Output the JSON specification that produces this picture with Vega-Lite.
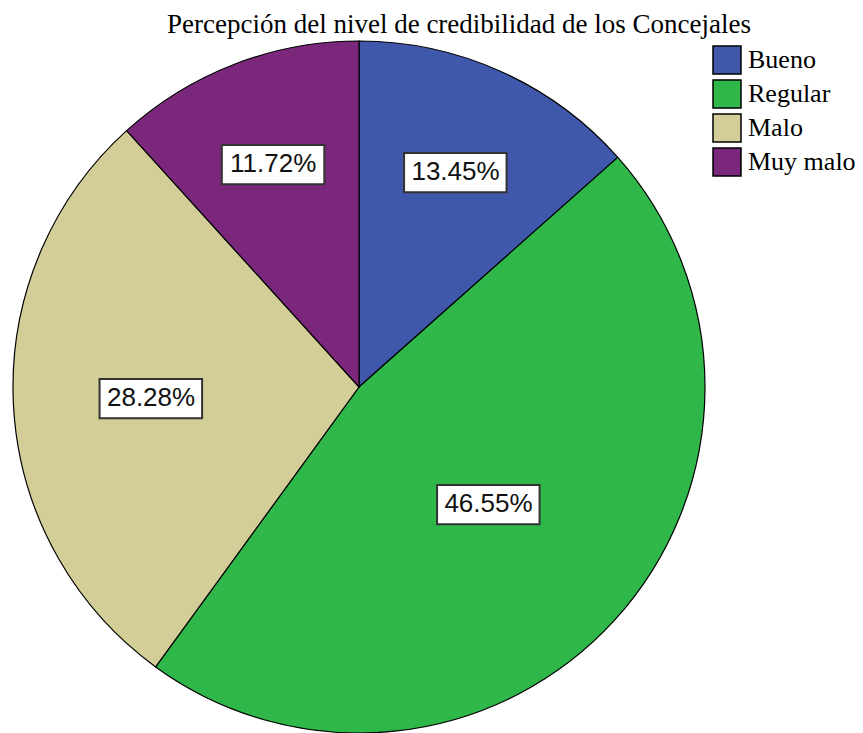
{
  "$schema": "https://vega.github.io/schema/vega-lite/v6.json",
  "width": 692,
  "height": 692,
  "autosize": {"type": "none"},
  "padding": {"left": 13, "top": 41, "right": 158, "bottom": 0},
  "background": "white",
  "title": {
    "text": "Percepción del nivel de credibilidad de los Concejales",
    "font": "Liberation Serif",
    "fontSize": 27,
    "fontWeight": "normal",
    "color": "#000",
    "anchor": "middle",
    "dx": 100,
    "offset": 0
  },
  "data": {
    "values": [
      {"categoria": "Bueno", "pct": 13.45, "orden": 1, "etiqueta": "13.45%"},
      {"categoria": "Regular", "pct": 46.55, "orden": 2, "etiqueta": "46.55%"},
      {"categoria": "Malo", "pct": 28.28, "orden": 3, "etiqueta": "28.28%"},
      {"categoria": "Muy malo", "pct": 11.72, "orden": 4, "etiqueta": "11.72%"}
    ]
  },
  "encoding": {
    "theta": {"field": "pct", "type": "quantitative", "stack": true},
    "order": {"field": "orden", "type": "quantitative"}
  },
  "layer": [
    {
      "mark": {"type": "arc", "stroke": "#000", "strokeWidth": 1.2},
      "encoding": {
        "color": {
          "field": "categoria",
          "type": "nominal",
          "sort": ["Bueno", "Regular", "Malo", "Muy malo"],
          "scale": {
            "domain": ["Bueno", "Regular", "Malo", "Muy malo"],
            "range": ["#3F58AB", "#2FB74A", "#D3CE97", "#7B287C"]
          },
          "legend": {
            "title": null,
            "orient": "none",
            "legendX": 699,
            "legendY": 4,
            "symbolType": "square",
            "symbolSize": 784,
            "symbolStrokeColor": "#000",
            "symbolStrokeWidth": 1.5,
            "symbolOpacity": 1,
            "labelFont": "Liberation Serif",
            "labelFontSize": 26,
            "labelColor": "#000",
            "labelOffset": 6,
            "rowPadding": 0,
            "padding": 0
          }
        }
      }
    },
    {
      "mark": {"type": "text", "font": "DejaVu Sans", "fontSize": 130, "fill": "#fff", "stroke": "#333", "strokeWidth": 2, "strokeJoin": "miter", "align": "center", "baseline": "bottom", "dy": 15},
      "encoding": {
        "text": {"value": "▂"},
        "detail": {"field": "categoria"},
        "radius": {"field": "pct", "type": "quantitative", "scale": {"type": "linear", "domain": [0, 100], "range": [260, 77], "zero": false}}
      }
    },
    {
      "mark": {"type": "text", "font": "Liberation Sans", "fontSize": 26, "fill": "#111", "align": "center", "baseline": "middle"},
      "encoding": {
        "text": {"field": "etiqueta"},
        "detail": {"field": "categoria"},
        "radius": {"field": "pct", "type": "quantitative", "scale": {"type": "linear", "domain": [0, 100], "range": [260, 77], "zero": false}}
      }
    }
  ],
  "config": {"view": {"stroke": null}}
}
